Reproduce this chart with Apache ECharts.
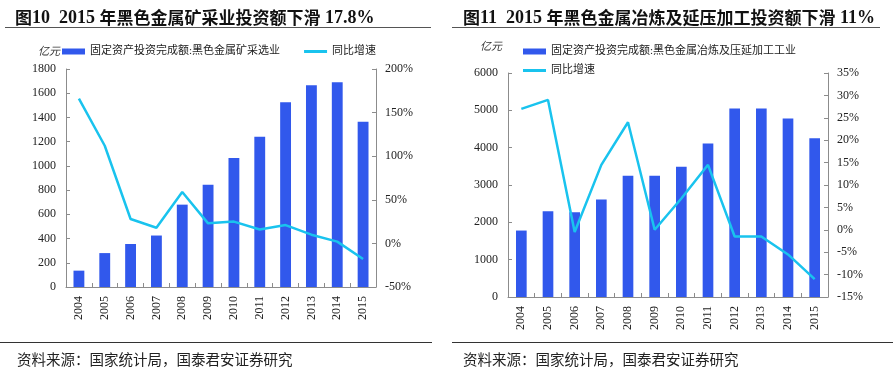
<!DOCTYPE html>
<html><head><meta charset="utf-8">
<script src="https://cdn.jsdelivr.net/npm/echarts@6/dist/echarts.min.js"></script>
<style>html,body{margin:0;padding:0;background:#fff}#c{width:893px;height:368px}</style>
</head><body><div id="c"></div>
<script>
const years = ['2004','2005','2006','2007','2008','2009','2010','2011','2012','2013','2014','2015'];
// Chart 10: ferrous metal mining
const miningInvest = [135, 280, 355, 425, 680, 845, 1065, 1240, 1525, 1665, 1690, 1365];
const miningGrowth = [166, 112, 28, 18, 59, 23, 25, 16, 21, 10, 2, -17.8];
// Chart 11: ferrous metal smelting & rolling
const smeltInvest = [1780, 2300, 2270, 2610, 3250, 3250, 3490, 4110, 5050, 5050, 4780, 4250];
const smeltGrowth = [27, 29, -0.5, 14.5, 24, 0, 7, 14.5, -1.5, -1.5, -5.5, -11];

const title1 = '{c|图}{a|10  2015 }{c|年黑色金属矿采业投资额下滑}{a| 17.8%}';
const title2 = '{c|图}{a|11  2015 }{c|年黑色金属冶炼及延压加工投资额下滑}{a| 11%}';
const barName1 = '固定资产投资完成额:黑色金属矿采选业';
const barName2 = '固定资产投资完成额:黑色金属冶炼及压延加工工业';
const lineName = '同比增速';
const unit = '亿元';
const source = '资料来源：国家统计局，国泰君安证券研究';

const FONT = '"Liberation Serif","Noto Sans CJK SC",serif';
const BLUE = '#3158EC';
const CYAN = '#19C3EE';
const AX = '#8c8c8c';
const titleRich = {
  a:{fontFamily:'"Liberation Serif",serif',fontSize:18,fontWeight:'bold',color:'#111'},
  c:{fontFamily:'"Noto Sans CJK SC",sans-serif',fontSize:17,fontWeight:'bold',color:'#111'}
};

function axisCommon(){
  return {
    axisLine:{show:true,lineStyle:{color:AX,width:1}},
    axisTick:{show:true,inside:true,length:4,lineStyle:{color:AX}},
    splitLine:{show:false},
    axisLabel:{color:'#222',fontFamily:FONT,fontSize:12,margin:10,formatter:v=>String(v)}
  };
}
function catAxis(gi){
  return Object.assign(axisCommon(),{
    type:'category',gridIndex:gi,data:years,boundaryGap:true,
    axisTick:{show:true,inside:true,length:4,alignWithLabel:false,lineStyle:{color:AX}},
    axisLabel:{color:'#222',fontFamily:FONT,fontSize:12,rotate:90,margin:9}
  });
}
const lineIcon = 'path://M0,0h23v3h-23z';

const chart = echarts.init(document.getElementById('c'),null,{renderer:'canvas'});
chart.setOption({
  animation:false,
  backgroundColor:'#fff',
  textStyle:{fontFamily:FONT},
  title:[
    {text:title1,left:10,top:4,textStyle:{rich:titleRich}},
    {text:title2,left:458,top:4,textStyle:{rich:titleRich}},
    {text:source,left:12,top:347,textStyle:{fontFamily:'"Noto Sans CJK SC",sans-serif',fontSize:14.5,fontWeight:'normal',color:'#222'}},
    {text:source,left:458,top:347,textStyle:{fontFamily:'"Noto Sans CJK SC",sans-serif',fontSize:14.5,fontWeight:'normal',color:'#222'}}
  ],
  graphic:[
    {type:'line',shape:{x1:5,y1:27.5,x2:431,y2:27.5},style:{stroke:'#555',lineWidth:1}},
    {type:'line',shape:{x1:452,y1:27.5,x2:880,y2:27.5},style:{stroke:'#555',lineWidth:1}},
    {type:'line',shape:{x1:0,y1:342.5,x2:432,y2:342.5},style:{stroke:'#333',lineWidth:1}},
    {type:'line',shape:{x1:452,y1:342.5,x2:893,y2:342.5},style:{stroke:'#333',lineWidth:1}},
    {type:'text',left:38,top:45,style:{text:unit,font:'italic 11px "Noto Sans CJK SC"',fill:'#333'}},
    {type:'text',left:480,top:40,style:{text:unit,font:'italic 11px "Noto Sans CJK SC"',fill:'#333'}}
  ],
  legend:[
    {left:62,top:46,padding:0,itemGap:24,itemWidth:23,itemHeight:6,
     textStyle:{fontFamily:FONT,fontSize:11,color:'#222'},
     data:[{name:barName1,icon:'rect'},{name:lineName,icon:lineIcon}]},
    {left:523,top:46,padding:0,orient:'vertical',itemGap:8,itemWidth:23,itemHeight:6,
     textStyle:{fontFamily:FONT,fontSize:11,color:'#222'},
     data:[{name:barName2,icon:'rect'},{name:lineName,icon:lineIcon}]}
  ],
  grid:[
    {left:66,right:517,top:69,bottom:81},
    {left:508,right:65,top:73,bottom:71}
  ],
  xAxis:[catAxis(0),catAxis(1)],
  yAxis:[
    Object.assign(axisCommon(),{type:'value',gridIndex:0,min:0,max:1800,interval:200,position:'left'}),
    Object.assign(axisCommon(),{type:'value',gridIndex:0,min:-50,max:200,interval:50,position:'right',
      axisLabel:{color:'#222',fontFamily:FONT,fontSize:12,margin:9,formatter:'{value}%'}}),
    Object.assign(axisCommon(),{type:'value',gridIndex:1,min:0,max:6000,interval:1000,position:'left'}),
    Object.assign(axisCommon(),{type:'value',gridIndex:1,min:-15,max:35,interval:5,position:'right',
      axisLabel:{color:'#222',fontFamily:FONT,fontSize:12,margin:9,formatter:'{value}%'}})
  ],
  series:[
    {name:barName1,type:'bar',xAxisIndex:0,yAxisIndex:0,data:miningInvest,barWidth:'42%',itemStyle:{color:BLUE}},
    {name:lineName,type:'line',xAxisIndex:0,yAxisIndex:1,data:miningGrowth,showSymbol:false,symbol:'none',
     lineStyle:{color:CYAN,width:2.5},itemStyle:{color:CYAN}},
    {name:barName2,type:'bar',xAxisIndex:1,yAxisIndex:2,data:smeltInvest,barWidth:'40%',itemStyle:{color:BLUE}},
    {name:lineName,type:'line',xAxisIndex:1,yAxisIndex:3,data:smeltGrowth,showSymbol:false,symbol:'none',
     lineStyle:{color:CYAN,width:2.5},itemStyle:{color:CYAN}}
  ]
});
</script></body></html>
